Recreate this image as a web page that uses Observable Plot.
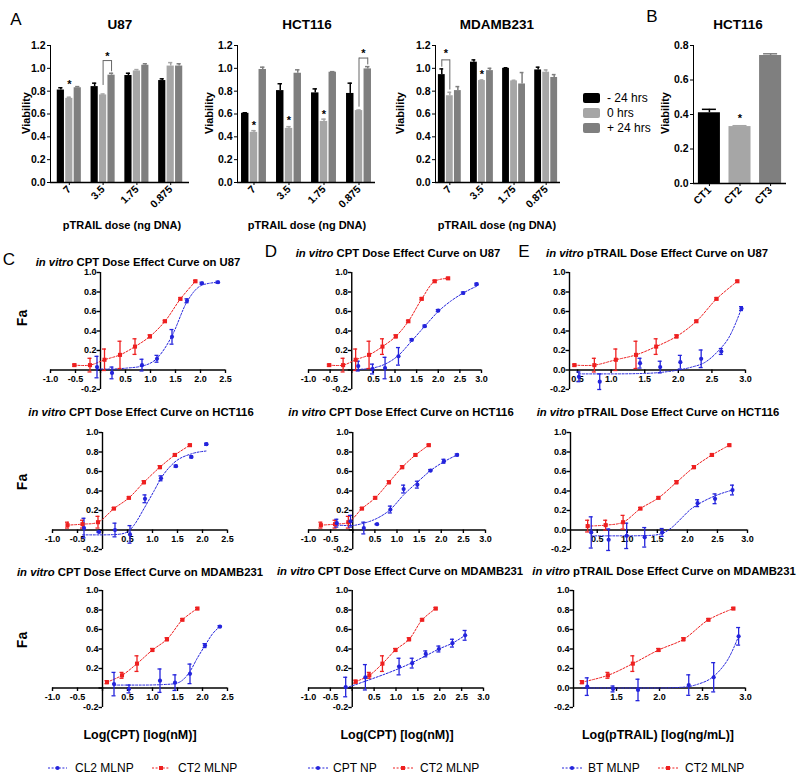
<!DOCTYPE html>
<html><head><meta charset="utf-8">
<script src="https://cdn.jsdelivr.net/npm/d3@7"></script>
<script src="https://cdn.jsdelivr.net/npm/@observablehq/plot@0.6"></script>
<style>
body{margin:0;background:#fff;}
#fig{position:relative;width:800px;height:781px;overflow:hidden;font-family:"Liberation Sans",Arial,Helvetica,sans-serif;color:#000;background:#fff;}
.box{position:absolute;}
.lbl{position:absolute;white-space:nowrap;transform:translate(-50%,-50%);line-height:1;}
</style></head>
<body><div id="fig"></div>
<script>
// ================= DATA =================
// Panel A: viability bars
const doses = ["7", "3.5", "1.75", "0.875"];
const timepoints = ["- 24 hrs", "0 hrs", "+ 24 hrs"];
const timeColors = ["#000000", "#a6a6a6", "#7f7f7f"];

const u87Minus24 = [0.81, 0.84, 0.937, 0.893];
const u87Minus24Err = [0.02, 0.03, 0.02, 0.015];
const u87Zero = [0.737, 0.767, 0.977, 1.02];
const u87ZeroErr = [0.01, 0.008, 0.012, 0.03];
const u87Plus24 = [0.83, 0.94, 1.027, 1.02];
const u87Plus24Err = [0.01, 0.017, 0.013, 0.02];

const hctMinus24 = [0.606, 0.805, 0.785, 0.78];
const hctMinus24Err = [0.005, 0.06, 0.035, 0.09];
const hctZero = [0.439, 0.474, 0.535, 0.63];
const hctZeroErr = [0.015, 0.015, 0.02, 0.005];
const hctPlus24 = [0.99, 0.957, 0.966, 0.995];
const hctPlus24Err = [0.02, 0.03, 0.005, 0.02];

const mdaMinus24 = [0.945, 1.054, 1.0, 0.986];
const mdaMinus24Err = [0.05, 0.02, 0.005, 0.024];
const mdaZero = [0.76, 0.893, 0.89, 0.966];
const mdaZeroErr = [0.03, 0.005, 0.005, 0.02];
const mdaPlus24 = [0.805, 0.98, 0.863, 0.92];
const mdaPlus24Err = [0.035, 0.02, 0.1, 0.025];

// significance stars above the "0 hrs" bars
const starCell = ["U87", "HCT116", "HCT116", "HCT116", "MDAMB231"];
const starDose = ["7", "7", "3.5", "1.75", "3.5"];
const starY = [0.885, 0.528, 0.567, 0.622, 0.975];

// brackets
const brkCell = ["U87", "HCT116", "MDAMB231"];
const brkDose = ["3.5", "0.875", "7"];
const brkFrom = ["0 hrs", "0 hrs", "- 24 hrs"];
const brkTo = ["+ 24 hrs", "+ 24 hrs", "0 hrs"];
const brkTop = [1.068, 1.09, 1.074];
const brkFromBottom = [0.85, 0.66, 1.01];
const brkToBottom = [0.97, 1.03, 0.81];
const brkStar = [1.127, 1.16, 1.156];

// Panel B
const ctLabels = ["CT1", "CT2", "CT3"];
const ctValues = [0.41, 0.33, 0.742];
const ctErr = [0.02, 0.005, 0.01];
const ctStar = [null, 0.394, null];

// Panels C-E: dose effect curves
// C / U87
const cU87_ct2_x = [-0.52, -0.21, 0.08, 0.39, 0.69, 0.99, 1.29, 1.6, 1.9];
const cU87_ct2_y = [0.05, 0.05, 0.105, 0.155, 0.24, 0.345, 0.5, 0.73, 0.91];
const cU87_ct2_e = [0.01, 0.07, 0.11, 0.14, 0.08, 0.015, 0.01, 0.01, 0.01];
const cU87_cl2_x = [-0.07, 0.23, 0.83, 1.13, 1.43, 1.73, 2.03, 2.35];
const cU87_cl2_y = [0.03, -0.03, 0.05, 0.115, 0.34, 0.71, 0.89, 0.9];
const cU87_cl2_e = [0.11, 0.06, 0.06, 0.035, 0.075, 0.02, 0.01, 0.01];
const cU87_cl2_fitX = [-0.07, 0.23, 0.53, 0.83, 1.13, 1.43, 1.73, 2.03, 2.35];
const cU87_cl2_fitY = [0.01, 0.01, 0.02, 0.04, 0.12, 0.35, 0.7, 0.87, 0.9];
// D / U87
const dU87_ct2_x = [-0.52, -0.2, 0.09, 0.4, 0.71, 1.02, 1.31, 1.62, 1.92, 2.23];
const dU87_ct2_y = [0.05, 0.05, 0.105, 0.155, 0.24, 0.345, 0.5, 0.73, 0.91, 0.94];
const dU87_ct2_e = [0.01, 0.07, 0.11, 0.14, 0.08, 0.015, 0.01, 0.01, 0.01, 0.01];
const dU87_cpt_x = [0.15, 0.48, 0.77, 1.08, 1.39, 1.69, 2.0, 2.58, 2.89];
const dU87_cpt_y = [0.04, 0.01, 0.02, 0.14, 0.31, 0.45, 0.61, 0.79, 0.88];
const dU87_cpt_e = [0.05, 0.05, 0.11, 0.09, 0.01, 0.01, 0.01, 0.01, 0.01];
const dU87_cpt_fitX = [0.05, 0.15, 0.48, 0.77, 1.08, 1.39, 1.69, 2.0, 2.3, 2.58, 2.89];
const dU87_cpt_fitY = [0.0, 0.005, 0.02, 0.06, 0.15, 0.3, 0.45, 0.6, 0.71, 0.79, 0.86];
// E / U87
const eU87_ct2_x = [0.455, 0.75, 1.07, 1.37, 1.67, 1.975, 2.27, 2.57, 2.88];
const eU87_ct2_y = [0.05, 0.05, 0.105, 0.155, 0.24, 0.345, 0.5, 0.73, 0.91];
const eU87_ct2_e = [0.01, 0.07, 0.11, 0.14, 0.08, 0.015, 0.01, 0.01, 0.01];
const eU87_bt_x = [0.52, 0.83, 1.43, 1.73, 2.03, 2.34, 2.64, 2.94];
const eU87_bt_y = [-0.07, -0.12, 0.07, 0.03, 0.08, 0.115, 0.19, 0.63];
const eU87_bt_e = [0.05, 0.08, 0.05, 0.06, 0.07, 0.09, 0.03, 0.02];
const eU87_bt_fitX = [0.52, 1.0, 1.5, 1.8, 2.0, 2.2, 2.4, 2.6, 2.75, 2.94];
const eU87_bt_fitY = [-0.04, -0.04, -0.035, -0.02, 0.0, 0.03, 0.08, 0.2, 0.33, 0.63];
// C / HCT116
const cHCT_ct2_x = [-0.7, -0.4, -0.09, 0.23, 0.53, 0.83, 1.15, 1.45, 1.75];
const cHCT_ct2_y = [0.05, 0.06, 0.08, 0.22, 0.33, 0.49, 0.645, 0.77, 0.87];
const cHCT_ct2_e = [0.03, 0.04, 0.06, 0.01, 0.01, 0.015, 0.015, 0.01, 0.01];
const cHCT_cl2_x = [-0.37, -0.07, 0.25, 0.55, 0.85, 1.17, 1.47, 1.78, 2.08];
const cHCT_cl2_y = [0.02, -0.02, 0.0, -0.045, 0.32, 0.53, 0.655, 0.75, 0.88];
const cHCT_cl2_e = [0.1, 0.005, 0.07, 0.09, 0.04, 0.025, 0.01, 0.01, 0.01];
const cHCT_cl2_fitX = [-0.4, 0.0, 0.3, 0.5, 0.63, 0.83, 1.03, 1.17, 1.43, 1.77, 2.07];
const cHCT_cl2_fitY = [-0.05, -0.05, -0.045, -0.02, 0.05, 0.22, 0.4, 0.53, 0.69, 0.78, 0.81];
// D / HCT116
const dHCT_ct2_x = [-0.72, -0.4, -0.1, 0.21, 0.51, 0.82, 1.12, 1.42, 1.72];
const dHCT_ct2_y = [0.05, 0.06, 0.08, 0.22, 0.33, 0.49, 0.645, 0.77, 0.87];
const dHCT_ct2_e = [0.03, 0.04, 0.06, 0.01, 0.01, 0.015, 0.015, 0.01, 0.01];
const dHCT_cpt_x = [-0.36, -0.05, 0.25, 0.55, 0.85, 1.15, 1.46, 1.76, 2.06, 2.36];
const dHCT_cpt_y = [0.07, 0.09, 0.02, 0.06, 0.21, 0.42, 0.465, 0.61, 0.705, 0.77];
const dHCT_cpt_e = [0.04, 0.06, 0.06, 0.005, 0.035, 0.04, 0.035, 0.01, 0.02, 0.01];
const dHCT_cpt_fitX = [-0.36, -0.05, 0.25, 0.55, 0.85, 1.15, 1.46, 1.76, 2.06, 2.36];
const dHCT_cpt_fitY = [0.05, 0.045, 0.07, 0.12, 0.21, 0.36, 0.49, 0.61, 0.7, 0.77];
// E / HCT116
const eHCT_ct2_x = [0.34, 0.64, 0.93, 1.22, 1.52, 1.82, 2.11, 2.41, 2.7];
const eHCT_ct2_y = [0.04, 0.05, 0.08, 0.22, 0.33, 0.49, 0.645, 0.77, 0.87];
const eHCT_ct2_e = [0.06, 0.05, 0.07, 0.01, 0.01, 0.015, 0.015, 0.01, 0.01];
const eHCT_bt_x = [0.4, 0.69, 0.99, 1.29, 1.58, 2.17, 2.46, 2.75];
const eHCT_bt_y = [-0.025, -0.1, -0.06, -0.075, -0.025, 0.275, 0.32, 0.41];
const eHCT_bt_e = [0.16, 0.11, 0.13, 0.1, 0.04, 0.035, 0.05, 0.05];
const eHCT_bt_fitX = [0.4, 0.99, 1.4, 1.6, 1.75, 1.9, 2.05, 2.17, 2.46, 2.75];
const eHCT_bt_fitY = [-0.06, -0.06, -0.055, -0.03, 0.03, 0.12, 0.21, 0.26, 0.35, 0.41];
// C / MDAMB231
const cMDA_ct2_x = [0.09, 0.39, 0.69, 1.0, 1.29, 1.6, 1.9];
const cMDA_ct2_y = [0.06, 0.13, 0.25, 0.39, 0.5, 0.7, 0.815];
const cMDA_ct2_e = [0.015, 0.03, 0.08, 0.015, 0.015, 0.01, 0.01];
const cMDA_cl2_x = [0.23, 0.53, 1.15, 1.45, 1.75, 2.05, 2.35];
const cMDA_cl2_y = [0.04, -0.01, 0.075, 0.055, 0.145, 0.435, 0.63];
const cMDA_cl2_e = [0.12, 0.04, 0.12, 0.08, 0.1, 0.02, 0.01];
const cMDA_cl2_fitX = [0.23, 0.8, 1.2, 1.45, 1.6, 1.75, 1.9, 2.05, 2.2, 2.35];
const cMDA_cl2_fitY = [0.03, 0.03, 0.035, 0.045, 0.08, 0.17, 0.31, 0.435, 0.555, 0.63];
// D / MDAMB231
const dMDA_ct2_x = [0.08, 0.39, 0.69, 0.99, 1.3, 1.6, 1.91];
const dMDA_ct2_y = [0.065, 0.13, 0.25, 0.39, 0.5, 0.7, 0.815];
const dMDA_ct2_e = [0.015, 0.03, 0.08, 0.015, 0.015, 0.01, 0.01];
const dMDA_cpt_x = [-0.15, 0.3, 1.07, 1.37, 1.68, 1.98, 2.29, 2.58];
const dMDA_cpt_y = [0.01, 0.11, 0.22, 0.255, 0.35, 0.4, 0.46, 0.54];
const dMDA_cpt_e = [0.1, 0.13, 0.085, 0.05, 0.03, 0.03, 0.04, 0.05];
const dMDA_cpt_fitX = [-0.15, 0.3, 1.07, 1.37, 1.68, 1.98, 2.29, 2.58];
const dMDA_cpt_fitY = [0.0, 0.07, 0.2, 0.26, 0.33, 0.4, 0.46, 0.54];
// E / MDAMB231
const eMDA_ct2_x = [1.1, 1.4, 1.69, 1.99, 2.28, 2.57, 2.86];
const eMDA_ct2_y = [0.06, 0.13, 0.25, 0.39, 0.5, 0.7, 0.815];
const eMDA_ct2_e = [0.015, 0.03, 0.08, 0.015, 0.015, 0.01, 0.01];
const eMDA_bt_x = [1.16, 1.46, 1.75, 2.34, 2.63, 2.92];
const eMDA_bt_y = [0.014, -0.01, -0.02, 0.03, 0.11, 0.53];
const eMDA_bt_e = [0.09, 0.03, 0.11, 0.105, 0.15, 0.09];
const eMDA_bt_fitX = [1.1, 1.6, 2.0, 2.3, 2.45, 2.6, 2.7, 2.8, 2.92];
const eMDA_bt_fitY = [0.0, 0.0, 0.0, 0.01, 0.04, 0.1, 0.18, 0.3, 0.53];

const yTicksFa = [-0.2, 0, 0.2, 0.4, 0.6, 0.8, 1.0];
const yTicksBar = [0, 0.2, 0.4, 0.6, 0.8, 1.0, 1.2];
const yTicksCT = [0, 0.2, 0.4, 0.6, 0.8];

// ================= RENDER =================
const RED = "#ee2020", BLUE = "#2424dc";
const FONT = '"Liberation Sans", Arial, Helvetica, sans-serif';
const fig = document.getElementById("fig");

function place(node, left, top) {
  const d = document.createElement("div");
  d.className = "box";
  d.style.left = left + "px";
  d.style.top = top + "px";
  d.appendChild(node);
  fig.appendChild(d);
}
function txt(html, x, y, o = {}) {
  const d = document.createElement("div");
  d.className = "lbl";
  d.innerHTML = html;
  d.style.left = x + "px";
  d.style.top = y + "px";
  d.style.fontSize = (o.size || 11) + "px";
  d.style.fontWeight = o.bold === false ? "normal" : "bold";
  if (o.anchor === "start") d.style.transform = "translate(0,-50%)";
  if (o.rotate) d.style.transform = "translate(-50%,-50%) rotate(-90deg)";
  fig.appendChild(d);
}
const fmt1 = v => v.toFixed(1);

// ---- bar charts ----
function barDomain() {
  const d = [];
  doses.forEach((dose, i) => {
    timepoints.forEach(t => d.push(dose + "|" + t));
    if (i < doses.length - 1) d.push("gap" + i);
  });
  return d;
}
function barChart(o) {
  const rows = [];
  doses.forEach((dose, i) => timepoints.forEach((t, j) =>
    rows.push({key: dose + "|" + t, t, v: o.vals[j][i], e: o.errs[j][i]})));
  const stars = starCell.map((c, i) => ({c, key: starDose[i] + "|0 hrs", y: starY[i]})).filter(s => s.c === o.cell);
  const brk = brkCell.map((c, i) => ({c, from: brkDose[i] + "|" + brkFrom[i], to: brkDose[i] + "|" + brkTo[i],
    top: brkTop[i], fb: brkFromBottom[i], tb: brkToBottom[i], star: brkStar[i]})).filter(b => b.c === o.cell);
  const pi = 0.15, n = 15;
  const step = (o.w - o.mL - o.mR) / (n - pi + 2 * o.po);
  return Plot.plot({
    width: o.w, height: 190, marginLeft: o.mL, marginRight: o.mR, marginTop: 15, marginBottom: 38,
    style: {fontFamily: FONT, fontSize: "10.5px", fontWeight: "bold", background: "transparent", overflow: "visible", color: "#000"},
    x: {type: "band", domain: barDomain(), paddingInner: pi, paddingOuter: o.po, round: false,
        ticks: doses.map(d => d + "|0 hrs"), tickFormat: k => k.split("|")[0], tickRotate: -45, tickSize: 3, tickPadding: 2, label: null},
    y: {domain: [0, 1.2], ticks: yTicksBar, tickFormat: fmt1, tickSize: 3, tickPadding: 2, line: true, label: null},
    color: {domain: timepoints, range: timeColors},
    marks: [
      Plot.barY(rows, {x: "key", y: "v", fill: "t"}),
      Plot.ruleX(rows, {x: "key", y1: "v", y2: d => d.v + d.e, stroke: "t", strokeWidth: 1.5}),
      Plot.ruleY(rows, {x1: "key", x2: "key", y: d => d.v + d.e, stroke: "t", strokeWidth: 1.5, insetLeft: 1.5, insetRight: 1.5}),
      Plot.ruleY([0], {strokeWidth: 1.4}),
      Plot.text(stars, {x: "key", y: "y", text: () => "*", dy: 3, fontSize: 11}),
      Plot.link(brk, {x1: "from", x2: "to", y1: "top", y2: "top", stroke: "#666", strokeWidth: 1}),
      Plot.ruleX(brk, {x: "from", y1: "fb", y2: "top", stroke: "#666", strokeWidth: 1}),
      Plot.ruleX(brk, {x: "to", y1: "tb", y2: "top", stroke: "#666", strokeWidth: 1}),
      Plot.text(brk, {x: "from", y: "star", text: () => "*", dx: step / 2, dy: 3, fontSize: 11})
    ]
  });
}

place(barChart({cell: "U87", w: 200, mL: 50, mR: 11, po: 0.8,
  vals: [u87Minus24, u87Zero, u87Plus24], errs: [u87Minus24Err, u87ZeroErr, u87Plus24Err]}), 0, 30);
place(barChart({cell: "HCT116", w: 180, mL: 37, mR: 5, po: 0.46,
  vals: [hctMinus24, hctZero, hctPlus24], errs: [hctMinus24Err, hctZeroErr, hctPlus24Err]}), 200, 30);
place(barChart({cell: "MDAMB231", w: 175, mL: 40, mR: 10, po: 0.36,
  vals: [mdaMinus24, mdaZero, mdaPlus24], errs: [mdaMinus24Err, mdaZeroErr, mdaPlus24Err]}), 395, 30);

// Panel B
{
  const rows = ctLabels.map((k, i) => ({k, v: ctValues[i], e: ctErr[i], s: ctStar[i]}));
  const p = Plot.plot({
    width: 157, height: 191, marginLeft: 50, marginRight: 14, marginTop: 15, marginBottom: 38,
    style: {fontFamily: FONT, fontSize: "10.5px", fontWeight: "bold", background: "transparent", overflow: "visible", color: "#000"},
    x: {type: "band", domain: ctLabels, paddingInner: 0.28, paddingOuter: 0.16, round: false, tickRotate: -45, tickSize: 3, tickPadding: 2, label: null},
    y: {domain: [0, 0.8], ticks: yTicksCT, tickFormat: fmt1, tickSize: 3, tickPadding: 2, line: true, label: null},
    color: {domain: ctLabels, range: timeColors},
    marks: [
      Plot.barY(rows, {x: "k", y: "v", fill: "k"}),
      Plot.ruleX(rows, {x: "k", y1: "v", y2: d => d.v + d.e, stroke: "k", strokeWidth: 1.5}),
      Plot.ruleY(rows, {x1: "k", x2: "k", y: d => d.v + d.e, stroke: "k", strokeWidth: 1.5, insetLeft: 4, insetRight: 4}),
      Plot.ruleY([0], {strokeWidth: 1.4}),
      Plot.text(rows.filter(d => d.s != null), {x: "k", y: "s", text: () => "*", dy: 3, fontSize: 11})
    ]
  });
  place(p, 643, 30);
}

// ---- dose effect curves ----
function curvePlot(p) {
  const mk = a => a[0].map((x, i) => ({x, y: a[1][i], e: a[2] ? a[2][i] : 0}));
  const red = mk(p.red), blue = mk(p.blue), fit = mk(p.fit);
  const ax = p.xd[0] < 0 ? 0 : p.xd[0];
  const yLabels = p.zero ? yTicksFa : yTicksFa.filter(v => v !== 0);
  const err = (pts, color) => [
    Plot.ruleX(pts, {x: "x", y1: d => d.y - d.e, y2: d => d.y + d.e, stroke: color, strokeWidth: 1.3}),
    Plot.ruleY(pts, {x1: "x", x2: "x", y: d => d.y + d.e, stroke: color, strokeWidth: 1.3, insetLeft: -2, insetRight: -2}),
    Plot.ruleY(pts, {x1: "x", x2: "x", y: d => d.y - d.e, stroke: color, strokeWidth: 1.3, insetLeft: -2, insetRight: -2})
  ];
  return Plot.plot({
    width: p.w, height: 139, marginLeft: p.mL, marginRight: p.mR, marginTop: 10, marginBottom: 12,
    style: {fontFamily: FONT, fontSize: "9px", fontWeight: "bold", background: "transparent", overflow: "visible", color: "#000"},
    x: {domain: p.xd, axis: null},
    y: {domain: [-0.2, 1.0], axis: null},
    marks: [
      Plot.ruleY([0], {strokeWidth: 1.4}),
      Plot.ruleX([ax], {y1: -0.2, y2: 1.0, strokeWidth: 1.4}),
      Plot.ruleX(p.xt, {x: d => d, y1: 0, y2: 0, insetBottom: -3.5, strokeWidth: 1.4}),
      Plot.text(p.xl, {x: d => d, y: 0, dy: 9, text: fmt1}),
      Plot.ruleY(yTicksFa, {y: d => d, x1: ax, x2: ax, insetLeft: -3.5, strokeWidth: 1.4}),
      Plot.text(yLabels, {x: ax, y: d => d, dx: -4, textAnchor: "end", text: fmt1}),
      Plot.line(red, {x: "x", y: "y", stroke: RED, strokeWidth: 1, strokeDasharray: "2,1.6", curve: "catmull-rom"}),
      Plot.line(fit, {x: "x", y: "y", stroke: BLUE, strokeWidth: 1, strokeDasharray: "2,1.6", curve: "monotone-x"}),
      ...err(red, RED),
      ...err(blue, BLUE),
      Plot.dot(red, {x: "x", y: "y", fill: RED, symbol: "square", r: 2.3}),
      Plot.dot(blue, {x: "x", y: "y", fill: BLUE, symbol: "circle", r: 2.1})
    ]
  });
}
const xtC = [-1, -0.5, 0, 0.5, 1, 1.5, 2, 2.5], xlC = [-1, -0.5, 0.5, 1, 1.5, 2, 2.5];
const xtD = [-1, -0.5, 0, 0.5, 1, 1.5, 2, 2.5, 3], xlD = [-1, -0.5, 0.5, 1, 1.5, 2, 2.5, 3];
const xtE = [0.5, 1, 1.5, 2, 2.5, 3], xtE3 = [1.5, 2, 2.5, 3];

const panels = [
  {l: 0, t: 262, w: 240, mL: 50, mR: 15, xd: [-1, 2.5], xt: xtC, xl: xlC,
   red: [cU87_ct2_x, cU87_ct2_y, cU87_ct2_e], blue: [cU87_cl2_x, cU87_cl2_y, cU87_cl2_e], fit: [cU87_cl2_fitX, cU87_cl2_fitY]},
  {l: 260, t: 262, w: 240, mL: 48, mR: 19, xd: [-1, 3], xt: xtD, xl: xlD,
   red: [dU87_ct2_x, dU87_ct2_y, dU87_ct2_e], blue: [dU87_cpt_x, dU87_cpt_y, dU87_cpt_e], fit: [dU87_cpt_fitX, dU87_cpt_fitY]},
  {l: 530, t: 262, w: 240, mL: 39, mR: 25, xd: [0.38, 3], xt: xtE, xl: xtE, zero: true,
   red: [eU87_ct2_x, eU87_ct2_y, eU87_ct2_e], blue: [eU87_bt_x, eU87_bt_y, eU87_bt_e], fit: [eU87_bt_fitX, eU87_bt_fitY]},
  {l: 0, t: 422, w: 240, mL: 52, mR: 13, xd: [-1, 2.5], xt: xtC, xl: xlC,
   red: [cHCT_ct2_x, cHCT_ct2_y, cHCT_ct2_e], blue: [cHCT_cl2_x, cHCT_cl2_y, cHCT_cl2_e], fit: [cHCT_cl2_fitX, cHCT_cl2_fitY]},
  {l: 260, t: 422, w: 240, mL: 48, mR: 15, xd: [-1, 3], xt: xtD, xl: xlD,
   red: [dHCT_ct2_x, dHCT_ct2_y, dHCT_ct2_e], blue: [dHCT_cpt_x, dHCT_cpt_y, dHCT_cpt_e], fit: [dHCT_cpt_fitX, dHCT_cpt_fitY]},
  {l: 530, t: 422, w: 240, mL: 40, mR: 23, xd: [0.055, 3], xt: xtE, xl: xtE, zero: true,
   red: [eHCT_ct2_x, eHCT_ct2_y, eHCT_ct2_e], blue: [eHCT_bt_x, eHCT_bt_y, eHCT_bt_e], fit: [eHCT_bt_fitX, eHCT_bt_fitY]},
  {l: 0, t: 580, w: 240, mL: 52, mR: 13, xd: [-1, 2.5], xt: xtC, xl: xlC,
   red: [cMDA_ct2_x, cMDA_ct2_y, cMDA_ct2_e], blue: [cMDA_cl2_x, cMDA_cl2_y, cMDA_cl2_e], fit: [cMDA_cl2_fitX, cMDA_cl2_fitY]},
  {l: 260, t: 580, w: 240, mL: 48, mR: 17, xd: [-1, 3], xt: xtD, xl: xlD,
   red: [dMDA_ct2_x, dMDA_ct2_y, dMDA_ct2_e], blue: [dMDA_cpt_x, dMDA_cpt_y, dMDA_cpt_e], fit: [dMDA_cpt_fitX, dMDA_cpt_fitY]},
  {l: 530, t: 580, w: 240, mL: 43, mR: 25, xd: [1.0, 3], xt: xtE3, xl: xtE3, zero: true,
   red: [eMDA_ct2_x, eMDA_ct2_y, eMDA_ct2_e], blue: [eMDA_bt_x, eMDA_bt_y, eMDA_bt_e], fit: [eMDA_bt_fitX, eMDA_bt_fitY]}
];
panels.forEach(p => place(curvePlot(p), p.l, p.t));

// ---- text ----
txt("A", 16, 19, {size: 17, bold: false});
txt("B", 652, 16, {size: 17, bold: false});
txt("C", 9, 259, {size: 17, bold: false});
txt("D", 271, 251, {size: 17, bold: false});
txt("E", 524, 251, {size: 17, bold: false});

txt("U87", 120, 25, {size: 13.5});
txt("HCT116", 307, 25, {size: 13.5});
txt("MDAMB231", 497, 25, {size: 13.5});
txt("HCT116", 738, 25, {size: 13.5});
[26, 209, 400, 665].forEach(x => txt("Viability", x, 113, {size: 11, rotate: true}));
[122, 307, 497].forEach(x => txt("pTRAIL dose (ng DNA)", x, 225, {size: 11}));

// panel A legend
timepoints.forEach((t, i) => {
  const s = document.createElement("div");
  s.style.cssText = `position:absolute;left:583px;top:${93 + i * 15}px;width:17px;height:10px;border-radius:2px;background:${timeColors[i]}`;
  fig.appendChild(s);
  txt(t, 607, 98 + i * 15, {size: 12, bold: false, anchor: "start"});
});

const iv = "<i>in vitro</i> ";
txt(iv + "CPT Dose Effect Curve on U87", 138, 263, {size: 11.3});
txt(iv + "CPT Dose Effect Curve on U87", 398, 254, {size: 11.3});
txt(iv + "pTRAIL Dose Effect Curve on U87", 657, 254, {size: 11.3});
txt(iv + "CPT Dose Effect Curve on HCT116", 141, 413, {size: 11.3});
txt(iv + "CPT Dose Effect Curve on HCT116", 401, 413, {size: 11.3});
txt(iv + "pTRAIL Dose Effect Curve on HCT116", 658, 413, {size: 11.3});
txt(iv + "CPT Dose Effect Curve on MDAMB231", 140, 573, {size: 11.3});
txt(iv + "CPT Dose Effect Curve on MDAMB231", 400, 572, {size: 11.3});
txt(iv + "pTRAIL Dose Effect Curve on MDAMB231", 664, 572, {size: 11.3});
[318, 482, 640].forEach(y => txt("Fa", 22, y, {size: 14, rotate: true}));
txt("Log(CPT) [log(nM)]", 140, 735, {size: 12.5});
txt("Log(CPT) [log(nM)]", 397, 735, {size: 12.5});
txt("Log(pTRAIL) [log(ng/mL)]", 658, 735, {size: 12.5});

function legendIcon(x, y, color, square, w) {
  const ns = "http://www.w3.org/2000/svg";
  const svg = document.createElementNS(ns, "svg");
  svg.setAttribute("width", w); svg.setAttribute("height", 8);
  svg.style.cssText = `position:absolute;left:${x}px;top:${y - 4}px;overflow:visible`;
  const ln = document.createElementNS(ns, "line");
  Object.entries({x1: 0, y1: 4, x2: w, y2: 4, stroke: color, "stroke-width": 1, "stroke-dasharray": "2,1.6"}).forEach(([k, v]) => ln.setAttribute(k, v));
  svg.appendChild(ln);
  const m = document.createElementNS(ns, square ? "rect" : "circle");
  if (square) Object.entries({x: w / 2 - 2, y: 2, width: 4, height: 4, fill: color}).forEach(([k, v]) => m.setAttribute(k, v));
  else Object.entries({cx: w / 2, cy: 4, r: 2.1, fill: color}).forEach(([k, v]) => m.setAttribute(k, v));
  svg.appendChild(m);
  fig.appendChild(svg);
}
legendIcon(48, 768, BLUE, false, 19); txt("CL2 MLNP", 75, 768, {size: 12, bold: false, anchor: "start"});
legendIcon(152, 768, RED, true, 18); txt("CT2 MLNP", 178, 768, {size: 12, bold: false, anchor: "start"});
legendIcon(308, 768, BLUE, false, 20); txt("CPT NP", 333, 768, {size: 12, bold: false, anchor: "start"});
legendIcon(393, 768, RED, true, 20); txt("CT2 MLNP", 420, 768, {size: 12, bold: false, anchor: "start"});
legendIcon(562, 768, BLUE, false, 20); txt("BT MLNP", 588, 768, {size: 12, bold: false, anchor: "start"});
legendIcon(658, 768, RED, true, 20); txt("CT2 MLNP", 685, 768, {size: 12, bold: false, anchor: "start"});
</script>
</body></html>
